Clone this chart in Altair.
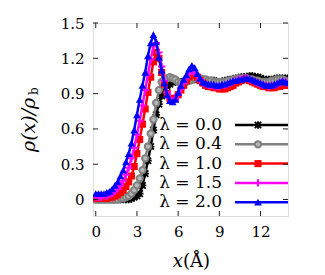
import altair as alt
import pandas as pd

# ---------------- data ----------------
x_grid = [round(0.2 * i, 1) for i in range(71)]

lam00 = [0.0, 0.0, 0.0, 0.0, 0.0, 0.0, 0.0, 0.0, 0.0, 0.0,
         0.0, 0.0, 0.0, 0.01, 0.02, 0.03, 0.05, 0.12, 0.22, 0.33,
         0.45, 0.59, 0.72, 0.81, 0.88, 0.92, 0.96, 0.98, 1.0, 1.0,
         1.0, 1.0, 1.0, 1.01, 1.01, 1.02, 1.02, 1.02, 1.02, 1.02,
         1.01, 1.01, 1.01, 1.01, 1.0, 1.0, 1.0, 1.01, 1.01, 1.02,
         1.02, 1.03, 1.03, 1.04, 1.04, 1.04, 1.05, 1.05, 1.04, 1.04,
         1.03, 1.02, 1.02, 1.02, 1.02, 1.02, 1.03, 1.03, 1.03, 1.03,
         1.03]
lam04 = [0.0, 0.0, 0.0, 0.0, 0.0, 0.0, 0.0, 0.0, 0.0, 0.01,
         0.01, 0.02, 0.03, 0.05, 0.08, 0.12, 0.18, 0.25, 0.35, 0.45,
         0.56, 0.68, 0.82, 0.93, 1.0, 1.02, 1.03, 1.04, 1.03, 1.02,
         1.0, 0.99, 0.99, 1.0, 1.01, 1.02, 1.03, 1.03, 1.03, 1.02,
         1.02, 1.01, 1.01, 1.0, 1.0, 1.0, 1.0, 1.0, 1.01, 1.01,
         1.02, 1.02, 1.03, 1.03, 1.03, 1.03, 1.02, 1.02, 1.01, 1.01,
         1.0, 1.0, 1.0, 1.0, 1.01, 1.01, 1.02, 1.02, 1.02, 1.01,
         1.0]
lam10 = [0.01, 0.01, 0.01, 0.01, 0.01, 0.02, 0.02, 0.03, 0.04, 0.06,
         0.08, 0.11, 0.15, 0.20, 0.28, 0.39, 0.51, 0.64, 0.77, 0.91,
         1.04, 1.17, 1.25, 1.20, 1.08, 0.98, 0.90, 0.86, 0.85, 0.86,
         0.89, 0.93, 0.97, 1.01, 1.04, 1.06, 1.06, 1.04, 1.01, 0.99,
         0.97, 0.96, 0.96, 0.95, 0.95, 0.94, 0.94, 0.94, 0.95, 0.96,
         0.97, 0.99, 1.0, 1.01, 1.02, 1.02, 1.01, 1.0, 0.99, 0.98,
         0.97, 0.96, 0.96, 0.95, 0.95, 0.95, 0.96, 0.96, 0.97, 0.97,
         0.97]
lam15 = [0.02, 0.02, 0.02, 0.03, 0.03, 0.04, 0.05, 0.07, 0.09, 0.12,
         0.16, 0.21, 0.27, 0.35, 0.44, 0.55, 0.67, 0.80, 0.93, 1.06,
         1.19, 1.30, 1.33, 1.25, 1.13, 1.01, 0.91, 0.86, 0.84, 0.85,
         0.89, 0.94, 0.99, 1.03, 1.07, 1.09, 1.08, 1.05, 1.02, 0.99,
         0.98, 0.97, 0.97, 0.96, 0.96, 0.96, 0.97, 0.97, 0.98, 0.99,
         1.0, 1.01, 1.02, 1.02, 1.03, 1.03, 1.02, 1.01, 1.0, 0.99,
         0.98, 0.97, 0.97, 0.96, 0.97, 0.97, 0.98, 0.99, 1.0, 1.0,
         0.99]
lam20 = [0.05, 0.05, 0.05, 0.05, 0.06, 0.07, 0.09, 0.12, 0.15, 0.20,
         0.25, 0.32, 0.39, 0.48, 0.59, 0.72, 0.85, 0.97, 1.08, 1.22,
         1.33, 1.40, 1.34, 1.21, 1.10, 0.99, 0.89, 0.84, 0.83, 0.85,
         0.91, 0.97, 1.02, 1.06, 1.11, 1.14, 1.12, 1.07, 1.03, 1.0,
         0.99, 0.98, 0.98, 0.98, 0.97, 0.97, 0.98, 0.98, 0.99, 1.0,
         1.01, 1.01, 1.02, 1.02, 1.03, 1.03, 1.03, 1.02, 1.01, 1.0,
         0.99, 0.98, 0.97, 0.97, 0.97, 0.98, 0.99, 1.0, 1.01, 1.0,
         0.99]

labels = ["λ = 0.0", "λ = 0.4", "λ = 1.0", "λ = 1.5", "λ = 2.0"]
series = [lam00, lam04, lam10, lam15, lam20]
colors = ["#000000", "#808080", "#ff0000", "#ff00ff", "#0000ff"]

x_ticks = [0, 3, 6, 9, 12]
y_ticks = [0, 0.3, 0.6, 0.9, 1.2, 1.5]

# ---------------- styling ----------------
FONT = "DejaVu Serif"
W, H = 195, 193

xs = alt.Scale(domain=[-0.2, 14.0], nice=False, zero=False)
ys = alt.Scale(domain=[-0.14, 1.5], nice=False, zero=False)
x_axis = alt.Axis(values=x_ticks, ticks=False, domain=False, grid=False,
                  labelFont=FONT, labelFontSize=15, labelColor="black",
                  labelPadding=8, title=None, labelFlush=False)
y_axis = alt.Axis(values=y_ticks, ticks=False, domain=False, grid=False,
                  labelFont=FONT, labelFontSize=15, labelColor="black",
                  labelPadding=9, title=None,
                  labelExpr="datum.value == 0 ? '0' : format(datum.value, '.1f')")


def X(f="x"):
    return alt.X(f"{f}:Q", scale=xs, axis=x_axis)


def Y(f="y"):
    return alt.Y(f"{f}:Q", scale=ys, axis=y_axis)


star_path = "M-1,-1L1,1M-1,1L1,-1M-1.2,0L1.2,0M0,-1.2L0,1.2"
plus_path = "M-1,0L1,0M0,-1L0,1"
marker_specs = [
    dict(shape=star_path, filled=False, size=40, strokeWidth=1.8),
    dict(shape="circle", filled=True, size=40, strokeWidth=2, fill="#b8b8b8"),
    dict(shape="square", filled=True, size=50, strokeWidth=0),
    dict(shape=plus_path, filled=False, size=55, strokeWidth=2),
    dict(shape="triangle-up", filled=True, size=60, strokeWidth=0),
]

layers = []
for i, (lab, vals, col) in enumerate(zip(labels, series, colors)):
    df = pd.DataFrame({"x": x_grid, "y": vals})
    base = alt.Chart(df)
    layers.append(base.mark_line(color=col, strokeWidth=2.5, clip=True)
                  .encode(x=X(), y=Y()))
    ms = dict(marker_specs[i])
    fill = ms.pop("fill", col)
    pkw = dict(color=col, stroke=col, opacity=1, clip=True)
    if ms["filled"]:
        pkw["fill"] = fill
    layers.append(base.mark_point(**ms, **pkw).encode(x=X(), y=Y()))

# legend (drawn inside the plot, right side)
for i, (lab, col) in enumerate(zip(labels, colors)):
    ly = 102 + 19.3 * i
    one = alt.Chart(pd.DataFrame({"t": [lab]}))
    layers.append(one.mark_text(align="right", baseline="middle", font=FONT,
                                fontSize=17, color="black")
                  .encode(x=alt.value(129), y=alt.value(ly), text="t:N"))
    layers.append(one.mark_rule(color=col, strokeWidth=2.5)
                  .encode(x=alt.value(142), x2=alt.value(W), y=alt.value(ly)))
    ms = dict(marker_specs[i])
    fill = ms.pop("fill", col)
    pkw = dict(color=col, stroke=col, opacity=1)
    if ms["filled"]:
        pkw["fill"] = fill
    layers.append(one.mark_point(**ms, **pkw)
                  .encode(x=alt.value(165), y=alt.value(ly)))

# inward ticks on all four sides
xt = alt.Chart(pd.DataFrame({"x": x_ticks}))
yt = alt.Chart(pd.DataFrame({"y": y_ticks}))
tick_col = "#222222"
layers.append(xt.mark_rule(color=tick_col, strokeWidth=1)
              .encode(x=X(), y=alt.value(H), y2=alt.value(H - 5)))
layers.append(xt.mark_rule(color=tick_col, strokeWidth=1)
              .encode(x=X(), y=alt.value(0), y2=alt.value(5)))
layers.append(yt.mark_rule(color=tick_col, strokeWidth=1)
              .encode(y=Y(), x=alt.value(0), x2=alt.value(5)))
layers.append(yt.mark_rule(color=tick_col, strokeWidth=1)
              .encode(y=Y(), x=alt.value(W), x2=alt.value(W - 5)))

# axis titles as text
t1 = alt.Chart(pd.DataFrame({"t": ["x"]}))
layers.append(t1.mark_text(align="right", baseline="middle", font=FONT,
                           fontSize=18, fontStyle="italic", color="black")
              .encode(x=alt.value(90), y=alt.value(239), text="t:N"))
t2 = alt.Chart(pd.DataFrame({"t": ["(Å)"]}))
layers.append(t2.mark_text(align="left", baseline="middle", font=FONT,
                           fontSize=18, color="black")
              .encode(x=alt.value(90), y=alt.value(239), text="t:N"))
t3 = alt.Chart(pd.DataFrame({"t": ["ρ(x)/ρ"]}))
layers.append(t3.mark_text(align="left", baseline="middle", font=FONT,
                           fontSize=19, fontStyle="italic", angle=270,
                           color="black")
              .encode(x=alt.value(-64), y=alt.value(129), text="t:N"))
t4 = alt.Chart(pd.DataFrame({"t": ["b"]}))
layers.append(t4.mark_text(align="left", baseline="middle", font=FONT,
                           fontSize=12, angle=270, color="black")
              .encode(x=alt.value(-59), y=alt.value(72), text="t:N"))

chart = (alt.layer(*layers)
         .properties(width=W, height=H,
                     padding={"left": 85, "top": 15, "right": 20, "bottom": 60},
                     autosize=alt.AutoSizeParams(type="none"))
         .configure_view(stroke="#222222", strokeWidth=1.2)
         .configure(background="white"))

chart.save("out.html", embed_options={"renderer": "svg", "actions": False})
